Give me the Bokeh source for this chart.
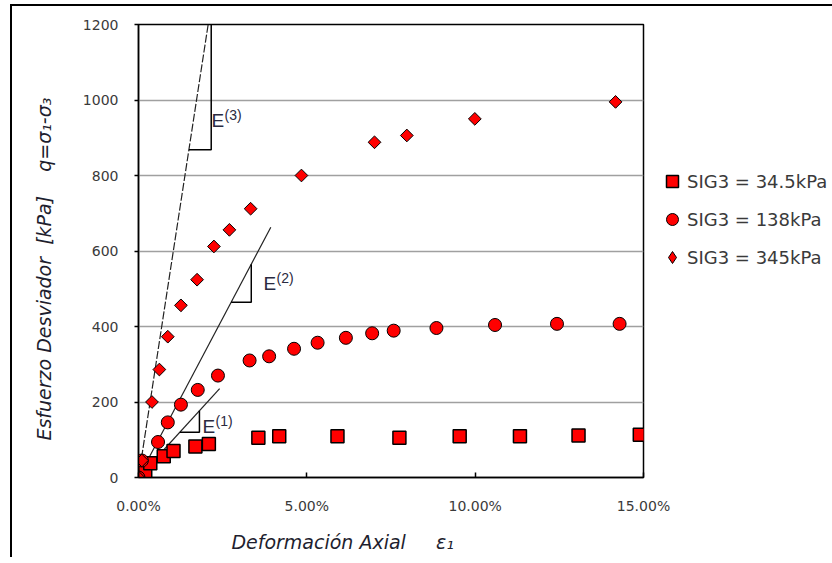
import numpy as np
from bokeh.plotting import figure
from bokeh.layouts import column
from bokeh.models import (FixedTicker, NumeralTickFormatter, Legend, LegendItem,
                          Label, Range1d, Div)
from bokeh.embed import file_html
from bokeh.resources import INLINE

# ---------------- data (x in % axial strain, y in kPa) ----------------
sq_x = [0.0, 0.2, 0.35, 0.75, 1.04, 1.69, 2.09, 3.56, 4.18, 5.91, 7.75, 9.54, 11.33, 13.07, 14.89]
sq_y = [0, 14, 38, 56, 70, 82, 89, 105, 109, 109, 105, 109, 109, 111, 113]

ci_x = [0.0, 0.1, 0.58, 0.87, 1.26, 1.76, 2.36, 3.30, 3.88, 4.62, 5.32, 6.16, 6.94, 7.58, 8.85, 10.59, 12.43, 14.29]
ci_y = [0, 45, 94, 146, 193, 232, 270, 310, 321, 341, 357, 370, 382, 389, 396, 404, 407, 407]

di_x = [0.0, 0.1, 0.4, 0.62, 0.87, 1.26, 1.74, 2.24, 2.70, 3.33, 4.84, 7.01, 7.97, 9.99, 14.17]
di_y = [0, 45, 200, 286, 373, 456, 524, 612, 656, 712, 800, 888, 906, 950, 995]

series_names = ["SIG3 = 34.5kPa", "SIG3 = 138kPa", "SIG3 = 345kPa"]

# moduli lines (kPa per % strain), line end (%), slope-triangle corner (%, kPa)
mod_names = ["(1)", "(2)", "(3)"]
mod_slope = [97.6, 168.7, 580.0]
mod_xend = [2.41, 3.93, 2.11]
tri_x = [1.81, 3.35, 2.16]
tri_y = [120, 464, 868]

x_ticks = [0.0, 0.05, 0.10, 0.15]
y_ticks = [0, 200, 400, 600, 800, 1000, 1200]

NB = "\u00a0"
x_title = "Deformación Axial" + NB * 5 + "ε₁"
y_title = "Esfuerzo Desviador" + NB * 2 + "[kPa]" + NB * 4 + "q=σ₁-σ₃"

pct = lambda a: np.asarray(a, dtype=float) / 100.0

TXT = "#3a3a3a"
TTL = "#1e1e2e"
FONT = "DejaVu Sans"

p = figure(frame_width=503, frame_height=453,
           min_border_left=126, min_border_right=183,
           min_border_top=18, min_border_bottom=80,
           x_range=Range1d(0, 0.15), y_range=Range1d(0, 1200),
           output_backend="svg", toolbar_location=None,
           background_fill_color="white", border_fill_color="white")
p.styles = {"border-left": "2px solid black"}

p.outline_line_color = "black"
p.outline_line_width = 1.5
p.xgrid.visible = False
p.ygrid.grid_line_color = "#a0a0a0"
p.ygrid.grid_line_width = 1.5

p.xaxis.ticker = FixedTicker(ticks=x_ticks)
p.xaxis.formatter = NumeralTickFormatter(format="0.00%")
p.yaxis.ticker = FixedTicker(ticks=y_ticks)
p.ygrid.ticker = FixedTicker(ticks=y_ticks)
for ax in (p.xaxis[0], p.yaxis[0]):
    ax.axis_line_color = "black"
    ax.axis_line_width = 1.5
    ax.major_tick_line_color = "black"
    ax.major_tick_line_width = 1.5
    ax.minor_tick_line_color = None
    ax.major_label_text_font = FONT
    ax.major_label_text_font_size = "14px"
    ax.major_label_text_color = TXT
    ax.axis_label_text_font = FONT
    ax.axis_label_text_font_style = "italic"
    ax.axis_label_text_font_size = "19px"
    ax.axis_label_text_color = TTL
p.xaxis.major_tick_in = 5
p.xaxis.major_tick_out = 0
p.xaxis.major_label_standoff = 20
p.yaxis.major_tick_in = 0
p.yaxis.major_tick_out = 4
p.yaxis.major_label_standoff = 16

# axis titles, padded with no-break spaces so they sit where the reference has them
p.yaxis.axis_label = y_title + NB * 6
p.yaxis.axis_label_standoff = 25
p.xaxis.axis_label = x_title + NB * 16
p.xaxis.axis_label_standoff = 14

# ---------------- modulus lines and slope triangles ----------------
for i in range(3):
    xs = pct([0.0, mod_xend[i]])
    ys = [0.0, mod_slope[i] * mod_xend[i]]
    p.line(xs, ys, line_color="#222222", line_width=1.2,
           line_dash="8 2" if i == 2 else "solid")
    x_left = tri_y[i] / mod_slope[i]
    y_top = mod_slope[i] * tri_x[i]
    p.line(pct([x_left, tri_x[i], tri_x[i]]), [tri_y[i], tri_y[i], y_top],
           line_color="black", line_width=1.5)

# E labels (page pixel left/baseline converted to offsets from the data origin)
e_pos = [(204, 426), (265, 283), (213, 120)]
for i, (lx, ly) in enumerate(e_pos):
    xo = lx - 140
    yo = 477 - ly
    p.add_layout(Label(x=0, y=0, x_offset=xo, y_offset=yo, text="E",
                       text_font="Liberation Sans", text_font_size="19px",
                       text_color="#2a2a40", text_baseline="alphabetic"))
    p.add_layout(Label(x=0, y=0, x_offset=xo + 13, y_offset=yo + 6, text=mod_names[i],
                       text_font="Liberation Sans", text_font_size="14px",
                       text_color="#2a2a40", text_baseline="alphabetic"))

# ---------------- data series ----------------
r_sq = p.scatter(pct(sq_x), sq_y, marker="square", size=13, fill_color="#ff0000",
                 line_color="black", line_width=1.5)
r_ci = p.scatter(pct(ci_x), ci_y, marker="circle", size=13, fill_color="#ff0000",
                 line_color="black", line_width=1)
r_di = p.scatter(pct(di_x), di_y, marker="square", angle=np.pi / 4, size=9,
                 fill_color="#ff0000", line_color="black", line_width=1)
# legend swatch for the diamonds (legend swatches ignore marker rotation); hidden on the plot
r_di_key = p.scatter(pct(di_x), di_y, marker="diamond", size=13, fill_color="#ff0000",
                     line_color="black", line_width=1, visible=False)

legend = Legend(items=[LegendItem(label=series_names[0], renderers=[r_sq]),
                       LegendItem(label=series_names[1], renderers=[r_ci]),
                       LegendItem(label=series_names[2], renderers=[r_di_key])],
                location=(14, 205), orientation="vertical", click_policy="none",
                inactive_fill_alpha=0,
                border_line_color=None, background_fill_alpha=0,
                padding=0, margin=0, spacing=8, label_standoff=-4,
                glyph_width=30, glyph_height=30, label_height=30,
                label_text_font=FONT, label_text_font_size="18px",
                label_text_color=TXT)
p.add_layout(legend, "right")

top_rule = Div(width=822, height=2, margin=0, styles={"background-color": "black"})
layout = column(top_rule, p, spacing=0,
                styles={"margin-top": "4px", "margin-left": "10px"})

open("out.html", "w").write(file_html(layout, INLINE))
